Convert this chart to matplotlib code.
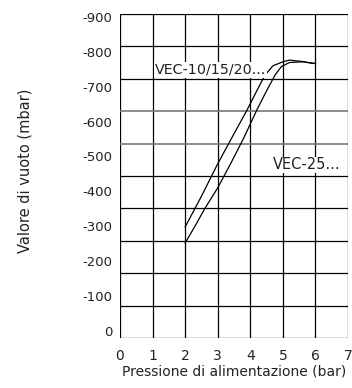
import numpy as np
import matplotlib
matplotlib.use("Agg")
import matplotlib.pyplot as plt

# curve data (pressure in bar, vacuum in mbar)
p_small = [2.0, 2.5, 3.0, 3.5, 3.9, 4.2, 4.45, 4.7, 5.0, 5.2, 5.6, 5.9, 6.0]
v_small = [-298, -386, -479, -565, -633, -688, -733, -760, -771, -776, -772, -767, -766]

p_large = [2.0, 2.3, 2.6, 3.0, 3.4, 3.8, 4.2, 4.5, 4.76, 4.95, 5.2, 5.6, 6.0]
v_large = [-252, -300, -350, -410, -480, -553, -633, -688, -733, -757, -769, -771, -766]

x_ticks = [0, 1, 2, 3, 4, 5, 6, 7]
y_ticks = [0, -100, -200, -300, -400, -500, -600, -700, -800, -900]

label_small = "VEC-10/15/20..."
label_large = "VEC-25..."

fig = plt.figure(figsize=(3.52, 3.88), dpi=100)
ax = fig.add_axes([120 / 352, 1 - 338 / 388, 228 / 352, 324 / 388])

y_lo, y_hi = 20, -908
ax.set_xlim(0, 7)
ax.set_ylim(y_lo, y_hi)

# grid: one line per bar, ten equal bands vertically
for x in x_ticks:
    ax.axvline(x, color="black", lw=0.9, zorder=1)
grid_y = np.linspace(y_lo, y_hi, 11)
for i, y in enumerate(grid_y):
    col = "#777777" if i in (6, 7) else "black"
    ax.axhline(y, color=col, lw=1.2 if col != "black" else 0.9, zorder=1)

ax.plot(p_small, v_small, color="black", lw=0.9, zorder=3)
ax.plot(p_large, v_large, color="black", lw=0.9, zorder=3)

box = dict(facecolor="white", edgecolor="none", pad=0.5)
ax.text(1.07, -748, label_small, fontsize=10.3, va="center", ha="left",
        color="#222222", bbox=box, zorder=4)
ax.text(4.68, -476, label_large, fontsize=10.5, va="center", ha="left",
        color="#222222", bbox=box, zorder=4)

ax.set_xticks(x_ticks)
ax.set_yticks(y_ticks)
ax.set_yticklabels([str(v) for v in y_ticks])
ax.tick_params(length=0, labelsize=9.5, colors="#222222")
ax.tick_params(axis="x", pad=8, labelsize=10)
ax.tick_params(axis="y", pad=5.5)
for s in ax.spines.values():
    s.set_visible(False)

ax.set_xlabel("Pressione di alimentazione (bar)", fontsize=10, color="#222222", labelpad=1)
fig.text(25 / 352, 1 - 171 / 388, "Valore di vuoto (mbar)", rotation=90,
         fontsize=10.5, color="#222222", ha="center", va="center")

fig.savefig("out.png", dpi=100)
